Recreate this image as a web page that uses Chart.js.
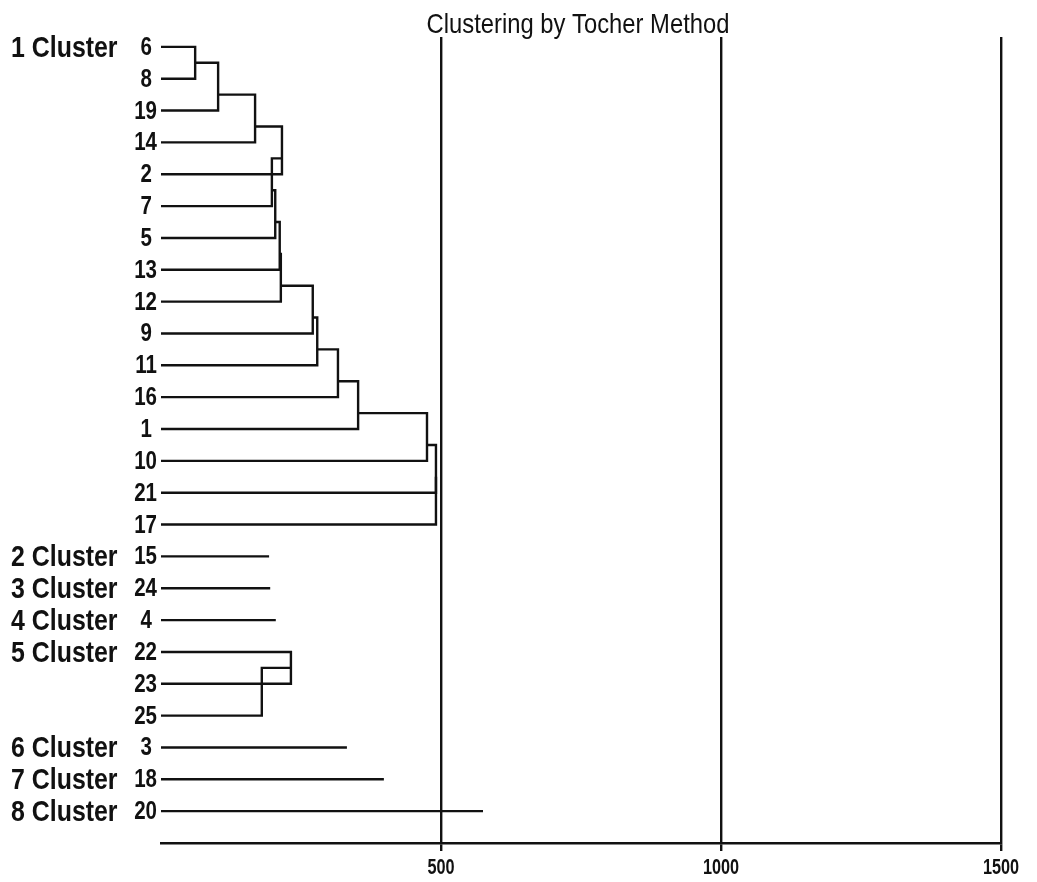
<!DOCTYPE html>
<html>
<head>
<meta charset="utf-8">
<script src="https://cdn.jsdelivr.net/npm/chart.js@4/dist/chart.umd.min.js"></script>
<style>
  html, body { margin: 0; padding: 0; background: #fff; }
  #wrap { width: 1037px; height: 882px; }
</style>
</head>
<body>
<div id="wrap"><canvas id="chart"></canvas></div>
<script>
const FONT = "'Liberation Sans', Arial, sans-serif";

// leaves, top to bottom
const leafLabels = ["6", "8", "19", "14", "2", "7", "5", "13", "12", "9", "11", "16", "1", "10", "21", "17",
  "15", "24", "4", "22", "23", "25", "3", "18", "20"];

const clusterNames = ["1 Cluster", "2 Cluster", "3 Cluster", "4 Cluster", "5 Cluster", "6 Cluster", "7 Cluster", "8 Cluster"];
const clusterFirstRow = [0, 16, 17, 18, 19, 22, 23, 24];

// merges: node ids 0-24 are leaf rows, 25+k is merge k
const mergeLeft = [0, 25, 26, 27, 28, 29, 30, 31, 32, 33, 34, 35, 36, 37, 38, 19, 40];
const mergeRight = [1, 2, 3, 4, 5, 6, 7, 8, 9, 10, 11, 12, 13, 14, 15, 20, 21];
const mergeHeight = [61, 102, 168, 216, 198, 204, 212, 214, 271, 279, 316, 352, 475, 491, 491, 232, 180];

// clusters with one member
const singleRow = [16, 17, 18, 22, 23, 24];
const singleLength = [193, 195, 205, 332, 398, 575];

const xTicks = [0, 500, 1000, 1500];
const xTickLabels = ["", "500", "1000", "1500"];
const titleText = "Clustering by Tocher Method";

// node geometry
const nLeaf = leafLabels.length;
const nodeX = [], nodeY = [], nodeMin = [], nodeMax = [];
for (let i = 0; i < nLeaf; i++) {
  nodeX[i] = 0; nodeY[i] = i; nodeMin[i] = i; nodeMax[i] = i;
}
mergeLeft.forEach((a, k) => {
  const b = mergeRight[k];
  const id = nLeaf + k;
  nodeX[id] = mergeHeight[k];
  nodeY[id] = (nodeMax[a] + nodeMin[b]) / 2;
  nodeMin[id] = Math.min(nodeMin[a], nodeMin[b]);
  nodeMax[id] = Math.max(nodeMax[a], nodeMax[b]);
});

const lineStyle = {
  showLine: true,
  borderColor: "#111",
  borderWidth: 2.4,
  pointRadius: 0,
  fill: false,
  tension: 0
};

const datasets = [];
mergeLeft.forEach((a, k) => {
  const b = mergeRight[k];
  const h = mergeHeight[k];
  datasets.push({
    ...lineStyle,
    data: [
      { x: nodeX[a], y: nodeY[a] },
      { x: h, y: nodeY[a] },
      { x: h, y: nodeY[b] },
      { x: nodeX[b], y: nodeY[b] }
    ]
  });
});
singleRow.forEach((r, i) => {
  datasets.push({
    ...lineStyle,
    data: [{ x: 0, y: r }, { x: singleLength[i], y: r }]
  });
});

// condensed text, like the scanned narrow font
function narrowText(ctx, text, x, y, size, sx, align, weight) {
  ctx.save();
  ctx.font = (weight || "normal") + " " + size + "px " + FONT;
  ctx.textAlign = align;
  ctx.textBaseline = "alphabetic";
  ctx.translate(x, y);
  ctx.scale(sx, 1);
  ctx.fillText(text, 0, 0);
  ctx.restore();
}

// title, row labels, cluster names and x tick labels
const textLayer = {
  id: "textLayer",
  afterDraw(chart) {
    const ctx = chart.ctx;
    const x = chart.scales.x;
    const y = chart.scales.y;
    const area = chart.chartArea;
    ctx.save();
    ctx.fillStyle = "#111";
    narrowText(ctx, titleText, (area.left + area.right) / 2 - 3, 33, 28, 0.85, "center");
    leafLabels.forEach((lab, i) => {
      narrowText(ctx, lab, area.left - (lab.length === 1 ? 9 : 4), y.getPixelForValue(i) + 8, 25, 0.82, "right", "bold");
    });
    clusterNames.forEach((name, i) => {
      narrowText(ctx, name, 11, y.getPixelForValue(clusterFirstRow[i]) + 10, 30, 0.83, "left", "bold");
    });
    xTicks.forEach((v, i) => {
      narrowText(ctx, xTickLabels[i], x.getPixelForValue(v), area.bottom + 31, 22, 0.74, "center", "bold");
    });
    ctx.restore();
  }
};

new Chart(document.getElementById("chart"), {
  type: "scatter",
  data: { datasets },
  plugins: [textLayer],
  options: {
    responsive: true,
    maintainAspectRatio: false,
    animation: false,
    layout: { padding: { left: 161, right: 36, top: 37, bottom: 31 } },
    plugins: {
      legend: { display: false },
      tooltip: { enabled: false },
      title: { display: false }
    },
    scales: {
      x: {
        type: "linear",
        min: 0,
        max: 1500,
        afterBuildTicks: (s) => { s.ticks = xTicks.map(v => ({ value: v })); },
        ticks: { display: false },
        grid: {
          color: (c) => (c.tick && c.tick.value === 0 ? "rgba(0,0,0,0)" : "#111"),
          lineWidth: 2.4,
          tickLength: 8
        },
        border: { display: true, color: "#111", width: 2.4 }
      },
      y: {
        type: "linear",
        display: false,
        reverse: true,
        min: -0.31,
        max: 25
      }
    }
  }
});
</script>
</body>
</html>
